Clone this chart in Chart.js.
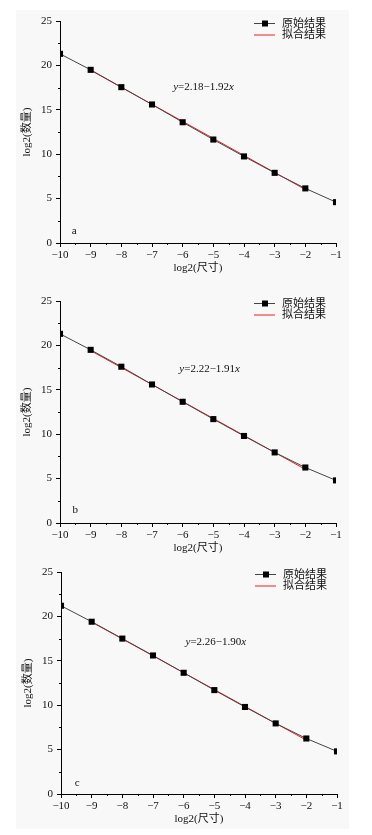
<!DOCTYPE html>
<html>
<head>
<meta charset="utf-8">
<script src="https://cdn.jsdelivr.net/npm/chart.js@4.4.1/dist/chart.umd.min.js"></script>
<style>
    body { margin: 0; background: #fff; width: 372px; height: 835px; position: relative; overflow: hidden; }
    #paper { position: absolute; left: 16px; top: 10px; width: 333px; height: 819px; background: #f8f8f8; }
    canvas { position: absolute; }
</style>
</head>
<body>
<div id="paper"></div>
<canvas id="chartA" width="372" height="280" style="left:0;top:0"></canvas>
<canvas id="chartB" width="372" height="280" style="left:0;top:280px"></canvas>
<canvas id="chartC" width="372" height="280" style="left:1px;top:551px"></canvas>
<script>
// log2(尺寸)
const sizes = [-10, -9, -8, -7, -6, -5, -4, -3, -2, -1];
// log2(数量)
const countsA = [21.3, 19.5, 17.55, 15.6, 13.6, 11.65, 9.75, 7.9, 6.15, 4.6];
const countsB = [21.3, 19.5, 17.6, 15.6, 13.65, 11.7, 9.8, 7.95, 6.25, 4.8];
const countsC = [21.2, 19.4, 17.5, 15.6, 13.65, 11.7, 9.8, 7.95, 6.25, 4.8];
// fitted line end points (x = -9 and x = -2)
const fitX = [-9, -2];
const fitA = [19.45, 6.02];
const fitB = [19.41, 6.04];
const fitC = [19.36, 6.06];
const equations = ['y=2.18\u22121.92x', 'y=2.22\u22121.91x', 'y=2.26\u22121.90x'];
const panelLetters = ['a', 'b', 'c'];
const seriesNames = ['原始结果', '拟合结果'];
const yTicks = [0, 5, 10, 15, 20, 25];

const SERIF = "'Liberation Serif', 'Noto Sans CJK SC', serif";

// where the equation / panel letter sit, in data units
const eqPos = [[-5.32, 17.57], [-5.12, 17.3], [-4.95, 17.15]];
const letterPos = [[-9.54, 1.35], [-9.5, 1.46], [-9.47, 1.2]];

const minorTicks = {
    id: 'minorTicks',
    afterDraw(chart) {
        const ctx = chart.ctx;
        const xs = chart.scales.x, ys = chart.scales.y;
        const a = chart.chartArea;
        ctx.save();
        ctx.strokeStyle = '#000';
        ctx.lineWidth = 1;
        ctx.beginPath();
        for (let v = xs.min + 0.5; v < xs.max; v += 1) {
            const px = Math.round(xs.getPixelForValue(v)) + 0.5;
            ctx.moveTo(px, a.bottom);
            ctx.lineTo(px, a.bottom + 2);
        }
        for (let v = ys.min + 2.5; v < ys.max; v += 5) {
            const py = Math.round(ys.getPixelForValue(v)) + 0.5;
            ctx.moveTo(a.left, py);
            ctx.lineTo(a.left - 2, py);
        }
        ctx.stroke();
        ctx.restore();
    }
};

const notes = {
    id: 'notes',
    afterDraw(chart, args, opts) {
        const ctx = chart.ctx;
        const xs = chart.scales.x, ys = chart.scales.y;
        const a = chart.chartArea;
        ctx.save();
        ctx.fillStyle = '#111';
        ctx.textBaseline = 'middle';

        // equation with italic y and x
        const eq = opts.equation;
        const parts = [
            { t: eq[0], f: 'italic 11px ' + SERIF },
            { t: eq.slice(1, -1), f: '11px ' + SERIF },
            { t: eq.slice(-1), f: 'italic 11px ' + SERIF }
        ];
        let total = 0;
        parts.forEach(p => { ctx.font = p.f; p.w = ctx.measureText(p.t).width; total += p.w; });
        let cx = xs.getPixelForValue(opts.eqAt[0]) - total / 2;
        const cy = ys.getPixelForValue(opts.eqAt[1]);
        parts.forEach(p => { ctx.font = p.f; ctx.textAlign = 'left'; ctx.fillText(p.t, cx, cy); cx += p.w; });

        // panel letter
        ctx.font = '11px ' + SERIF;
        ctx.textAlign = 'center';
        ctx.fillText(opts.letter, xs.getPixelForValue(opts.letterAt[0]), ys.getPixelForValue(opts.letterAt[1]));

        // legend, top right inside the plot
        const lx = a.right - 82;
        chart.data.datasets.forEach((ds, i) => {
            const ly = a.top + 2.5 + i * 11.5;
            ctx.strokeStyle = ds.borderColor;
            ctx.lineWidth = 1;
            ctx.beginPath();
            ctx.moveTo(lx, ly);
            ctx.lineTo(lx + 21, ly);
            ctx.stroke();
            if (ds.pointRadius > 0) {
                ctx.fillStyle = '#000';
                ctx.fillRect(lx + 8, ly - 3, 6, 6);
            }
            ctx.fillStyle = '#111';
            ctx.textAlign = 'left';
            ctx.font = '11px ' + SERIF;
            ctx.fillText(ds.label, lx + 28, ly + 0.5);
        });
        ctx.restore();
    }
};

function buildPanel(id, counts, fit, idx) {
    const destroyChart = Chart.getChart(id);
    if (destroyChart) destroyChart.destroy();

    new Chart(document.getElementById(id), {
        type: 'scatter',
        data: {
            datasets: [{
                label: seriesNames[0],
                data: sizes.map((s, i) => ({ x: s, y: counts[i] })),
                showLine: true,
                borderColor: '#444',
                borderWidth: 1,
                pointStyle: 'rect',
                pointRadius: 4.3,
                pointBackgroundColor: '#000',
                pointBorderColor: '#000',
                pointBorderWidth: 0,
                clip: 0,
                order: 0
            }, {
                label: seriesNames[1],
                data: fitX.map((s, i) => ({ x: s, y: fit[i] })),
                showLine: true,
                borderColor: '#e8202a',
                borderWidth: 1,
                pointRadius: 0,
                order: 1
            }]
        },
        options: {
            responsive: false,
            animation: false,
            events: [],
            layout: { padding: { top: 21, left: 0, right: 36, bottom: 0 } },
            plugins: {
                legend: { display: false },
                tooltip: { enabled: false },
                notes: { equation: equations[idx], eqAt: eqPos[idx], letter: panelLetters[idx], letterAt: letterPos[idx] }
            },
            scales: {
                x: {
                    type: 'linear',
                    min: -10,
                    max: -1,
                    afterFit: (s) => { s.height = 37; },
                    border: { color: '#000', width: 1 },
                    grid: { drawOnChartArea: false, tickLength: 4, tickColor: '#000' },
                    ticks: {
                        stepSize: 1,
                        padding: 2,
                        color: '#111',
                        font: { family: SERIF, size: 11 },
                        callback: (v) => String(v).replace('-', '\u2212')
                    },
                    title: {
                        display: true,
                        text: 'log2(尺寸)',
                        color: '#111',
                        font: { family: SERIF, size: 11 },
                        padding: { top: 0, bottom: 5 }
                    }
                },
                y: {
                    min: 0,
                    max: 25,
                    afterFit: (s) => { s.width = 60; },
                    afterBuildTicks: (s) => { s.ticks = yTicks.map(v => ({ value: v })); },
                    border: { color: '#000', width: 1 },
                    grid: { drawOnChartArea: false, tickLength: 4, tickColor: '#000' },
                    ticks: {
                        padding: 4,
                        color: '#111',
                        font: { family: SERIF, size: 11 }
                    },
                    title: {
                        display: true,
                        text: 'log2(数量)',
                        color: '#111',
                        font: { family: SERIF, size: 11 },
                        padding: { top: 21, bottom: 0 }
                    }
                }
            }
        },
        plugins: [minorTicks, notes]
    });
}

buildPanel('chartA', countsA, fitA, 0);
buildPanel('chartB', countsB, fitB, 1);
buildPanel('chartC', countsC, fitC, 2);
</script>
</body>
</html>
